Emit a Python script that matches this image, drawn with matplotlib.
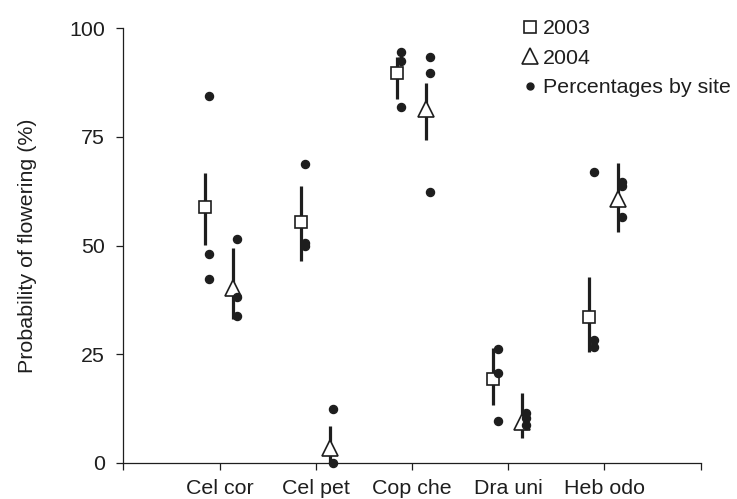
import matplotlib.pyplot as plt
import numpy as np

species = ["Cel cor", "Cel pet", "Cop che", "Dra uni", "Heb odo"]

# model estimates with confidence limits
mean_2003 = [58.9, 55.4, 89.8, 19.3, 33.6]
lo_2003 = [50.1, 46.4, 83.7, 13.4, 25.4]
hi_2003 = [66.6, 63.8, 93.5, 26.5, 42.7]

mean_2004 = [40.2, 3.3, 81.4, 9.4, 60.7]
lo_2004 = [33.1, 0.0, 74.4, 5.8, 53.0]
hi_2004 = [49.4, 8.5, 87.3, 16.0, 69.1]

# raw percentages per site
sites_2003 = [
    [84.4, 48.0, 42.3],
    [68.8, 50.5, 49.9],
    [94.5, 92.5, 81.8],
    [26.1, 20.7, 9.7],
    [66.9, 28.2, 26.7],
]
sites_2004 = [
    [51.5, 38.1, 33.7],
    [12.4, 0.0],
    [93.3, 89.6, 62.4],
    [11.4, 10.2, 8.7],
    [64.7, 63.6, 56.6],
]

plt.rcParams["font.family"] = ["Liberation Sans", "DejaVu Sans"]
plt.rcParams["font.size"] = 15.4

ink = "#1e1e1e"

fig = plt.figure(figsize=(7.37, 4.99), dpi=100)
ax = fig.add_axes([0.1673, 0.0727, 0.7832, 0.8706])

x = np.arange(1, len(species) + 1)
off_sq, off_d3, off_tri, off_d4 = -0.155, -0.11, 0.145, 0.183

for i, xi in enumerate(x):
    ax.plot([xi + off_sq] * 2, [lo_2003[i], hi_2003[i]], color=ink, lw=2.3,
            solid_capstyle="butt", zorder=2)
    ax.plot([xi + off_tri] * 2, [lo_2004[i], hi_2004[i]], color=ink, lw=2.3,
            solid_capstyle="butt", zorder=2)
    ax.plot([xi + off_d3] * len(sites_2003[i]), sites_2003[i], "o", color=ink,
            ms=5.8, zorder=4, clip_on=False)
    ax.plot([xi + off_d4] * len(sites_2004[i]), sites_2004[i], "o", color=ink,
            ms=5.8, zorder=4, clip_on=False)

ax.plot(x + off_sq, mean_2003, "s", ms=9, mfc="white", mec=ink, mew=1.2,
        ls="none", zorder=3, label="2003")
ax.plot(x + off_tri, mean_2004, "^", ms=11, mfc="white", mec=ink, mew=1.2,
        ls="none", zorder=3, label="2004", clip_on=False)
ax.plot([], [], "o", color=ink, ms=5, ls="none", label="Percentages by site")

ax.set_xlim(0, 6)
ax.set_ylim(0, 100)
ax.set_xticks(range(0, 7))
ax.set_xticklabels([""] + species + [""])
ax.set_yticks([0, 25, 50, 75, 100])
ax.set_ylabel("Probability of flowering (%)", labelpad=23, color=ink)

for side in ["top", "right"]:
    ax.spines[side].set_visible(False)
for side in ["left", "bottom"]:
    ax.spines[side].set_linewidth(0.9)
    ax.spines[side].set_color(ink)
ax.tick_params(direction="out", length=5, width=0.9, color=ink, labelcolor=ink)
ax.tick_params(axis="y", pad=8)
ax.tick_params(axis="x", pad=7)

ax.legend(loc="upper left", bbox_to_anchor=(0.673, 1.046), frameon=False,
          handlelength=0.7, handletextpad=0.25, labelspacing=0.5, borderpad=0,
          numpoints=1, labelcolor=ink)

fig.savefig("out.png", dpi=100)
